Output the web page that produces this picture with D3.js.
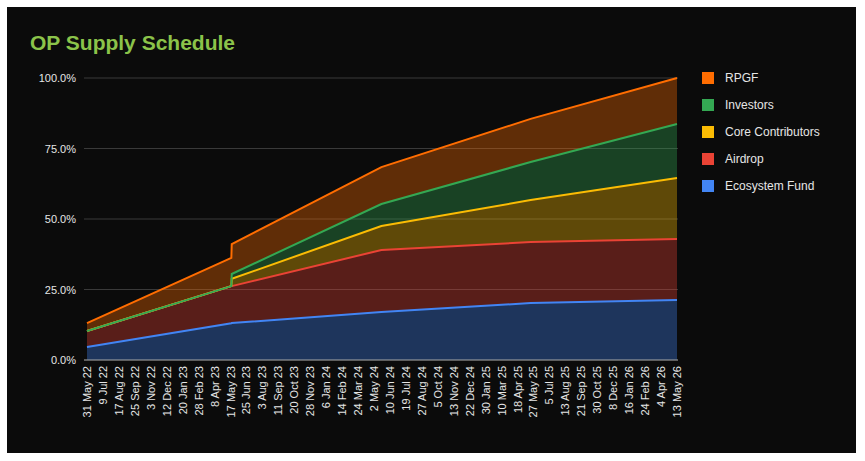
<!DOCTYPE html>
<html><head><meta charset="utf-8">
<script src="https://cdn.jsdelivr.net/npm/d3@7"></script>
<style>body{margin:0;background:#fff}svg{display:block}</style>
</head><body><svg id="c" width="865" height="461"></svg>
<script>
const dates = ["2022-05-31","2023-05-19","2023-05-20","2024-05-20","2025-05-20","2026-05-13"];
const ecosystem = [4.6, 13.0, 13.1, 17.0, 20.2, 21.3];
const airdrop   = [5.7, 13.2, 13.1, 22.0, 21.6, 21.6];
const core      = [0, 0, 2.6, 8.5, 14.9, 21.6];
const investors = [0, 0, 1.7, 7.8, 13.5, 19.2];
const rpgf      = [2.8, 10.0, 10.6, 13.1, 15.3, 16.3];
const seriesNames = ["Ecosystem Fund","Airdrop","Core Contributors","Investors","RPGF"];
const colors = ["#4285f4","#ea4335","#fbbc04","#34a853","#ff6d01"];
const tickLabels = ["31 May 22","9 Jul 22","17 Aug 22","25 Sep 22","3 Nov 22","12 Dec 22","20 Jan 23","28 Feb 23","8 Apr 23","17 May 23","25 Jun 23","3 Aug 23","11 Sep 23","20 Oct 23","28 Nov 23","6 Jan 24","14 Feb 24","24 Mar 24","2 May 24","10 Jun 24","19 Jul 24","27 Aug 24","5 Oct 24","13 Nov 24","22 Dec 24","30 Jan 25","10 Mar 25","18 Apr 25","27 May 25","5 Jul 25","13 Aug 25","21 Sep 25","30 Oct 25","8 Dec 25","16 Jan 26","24 Feb 26","4 Apr 26","13 May 26"];
const yTicks = [0,25,50,75,100];

const svg = d3.select("#c");
svg.append("rect").attr("x",7).attr("y",7).attr("width",849).attr("height",446).attr("fill","#0b0b0b");
svg.append("text").attr("x",30).attr("y",50).text("OP Supply Schedule")
  .attr("font-family","Liberation Sans, Arial").attr("font-weight","bold").attr("font-size",21).attr("fill","#8bc34a");

const parse = d3.utcParse("%Y-%m-%d");
const tparse = d3.utcParse("%d %b %y");
const x = d3.scaleUtc().domain([parse(dates[0]), parse(dates[dates.length-1])]).range([87,677]);
const y = d3.scaleLinear().domain([0,100]).range([360,78]);

const g = svg.append("g");
yTicks.forEach(t=>{
  g.append("line").attr("x1",84).attr("x2",678).attr("y1",y(t)).attr("y2",y(t)).attr("stroke","#3a3a3a").attr("stroke-width",1);
  g.append("text").attr("x",76).attr("y",y(t)+4).attr("text-anchor","end").text(t.toFixed(1)+"%")
    .attr("font-family","Liberation Sans, Arial").attr("font-size",11).attr("fill","#e6e6e6");
});

const rows = dates.map((d,i)=>({date:parse(d),"Ecosystem Fund":ecosystem[i],"Airdrop":airdrop[i],"Core Contributors":core[i],"Investors":investors[i],"RPGF":rpgf[i]}));
const stack = d3.stack().keys(seriesNames)(rows);
const area = d3.area().x(d=>x(d.data.date)).y0(d=>y(d[0])).y1(d=>y(d[1]));
const line = d3.line().x(d=>x(d.data.date)).y(d=>y(d[1]));
stack.forEach((s,i)=>{
  g.append("path").attr("d",area(s)).attr("fill",colors[i]).attr("fill-opacity",0.35);
});
stack.forEach((s,i)=>{
  g.append("path").attr("d",line(s)).attr("fill","none").attr("stroke",colors[i]).attr("stroke-width",2);
});
g.append("line").attr("x1",84).attr("x2",678).attr("y1",y(0)).attr("y2",y(0)).attr("stroke","#9a9a9a");

tickLabels.forEach(l=>{
  const xx = x(tparse(l));
  g.append("text").attr("transform",`translate(${xx+4},366) rotate(-90)`).attr("text-anchor","end")
    .text(l).attr("font-family","Liberation Sans, Arial").attr("font-size",11).attr("fill","#e6e6e6");
});

seriesNames.slice().reverse().forEach((n,i)=>{
  const c = colors[seriesNames.length-1-i];
  const yy = 78 + i*27;
  g.append("rect").attr("x",702).attr("y",yy-6).attr("width",12).attr("height",12).attr("fill",c);
  g.append("text").attr("x",725).attr("y",yy+4).text(n).attr("font-family","Liberation Sans, Arial").attr("font-size",12).attr("fill","#e6e6e6");
});
</script></body></html>
